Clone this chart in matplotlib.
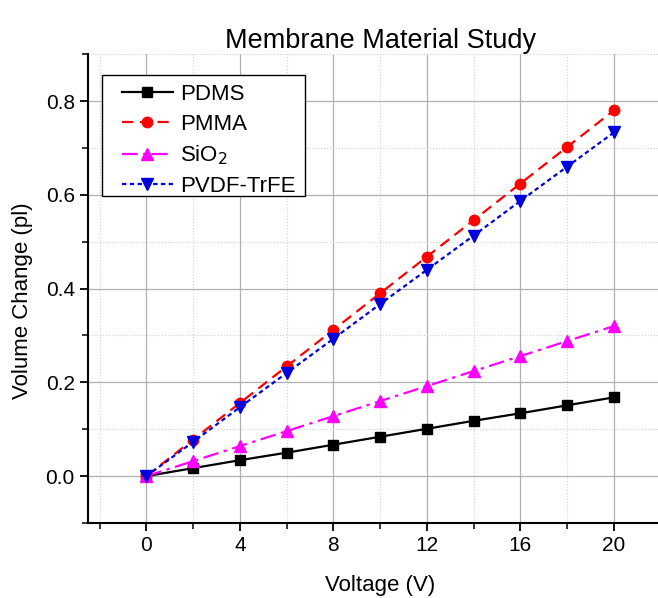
import numpy as np
import matplotlib.pyplot as plt
from matplotlib.patches import Rectangle
from matplotlib.ticker import MultipleLocator

plt.rcParams['font.family'] = ['Liberation Sans', 'DejaVu Sans']

voltage = [0, 2, 4, 6, 8, 10, 12, 14, 16, 18, 20]
pdms = [0, 0.017, 0.034, 0.050, 0.067, 0.084, 0.101, 0.118, 0.134, 0.151, 0.168]
pmma = [0, 0.078, 0.156, 0.234, 0.312, 0.390, 0.468, 0.546, 0.624, 0.702, 0.780]
sio2 = [0, 0.032, 0.064, 0.096, 0.128, 0.160, 0.192, 0.224, 0.256, 0.288, 0.320]
pvdf = [0, 0.073, 0.147, 0.220, 0.293, 0.367, 0.440, 0.513, 0.587, 0.660, 0.733]


def main():
    fig = plt.figure(figsize=(6.58, 5.98), dpi=100)
    ax = fig.add_axes([0.1337, 0.1254, 0.888, 0.784])

    ax.plot(voltage, pdms, color='black', ls='-', lw=1.6, marker='s', ms=7, label='PDMS')
    ax.plot(voltage, pmma, color='red', ls=(0, (5, 3)), lw=1.6, marker='o', ms=7.5, label='PMMA')
    ax.plot(voltage, sio2, color='magenta', ls=(0, (7, 2.5, 1.5, 2.5)), lw=1.6, marker='^', ms=8,
            label='SiO$_2$')
    ax.plot(voltage, pvdf, color='#0000dd', ls=(0, (2, 1.5)), lw=1.6, marker='v', ms=8,
            label='PVDF-TrFE')

    ax.set_xlim(-2.5, 22.5)
    ax.set_ylim(-0.1, 0.9)
    ax.xaxis.set_major_locator(MultipleLocator(4))
    ax.xaxis.set_minor_locator(MultipleLocator(2))
    ax.yaxis.set_major_locator(MultipleLocator(0.2))
    ax.yaxis.set_minor_locator(MultipleLocator(0.1))

    ax.grid(True, which='major', color='#b0b0b0', lw=0.9, ls='-')
    ax.grid(True, which='minor', color='#d0d0d0', lw=0.8, ls=':')
    ax.set_axisbelow(True)

    for side in ['top', 'right']:
        ax.spines[side].set_visible(False)
    for side in ['left', 'bottom']:
        ax.spines[side].set_linewidth(1.5)

    ax.tick_params(which='major', direction='out', length=6, width=1.3, labelsize=15)
    ax.tick_params(which='minor', direction='out', length=4, width=1.1)

    ax.set_xlabel('Voltage (V)', fontsize=16, labelpad=14)
    ax.set_ylabel('Volume Change (pl)', fontsize=16)
    ax.yaxis.set_label_coords(-0.094, 0.475)
    ax.set_title('Membrane Material Study', fontsize=19.5, pad=3)

    # legend frame drawn separately so the padding matches the original
    ax.add_patch(Rectangle((0.024, 0.697), 0.348, 0.258, transform=ax.transAxes,
                           facecolor='white', edgecolor='black', lw=1.0, zorder=4))
    ax.legend(loc='upper left', bbox_to_anchor=(0.058, 0.937), fontsize=16, frameon=False,
              handlelength=2.3, borderpad=0, borderaxespad=0,
              labelspacing=0.4, handletextpad=0.3).set_zorder(5)

    fig.savefig('out.png', dpi=100)


if __name__ == "__main__":
    main()
